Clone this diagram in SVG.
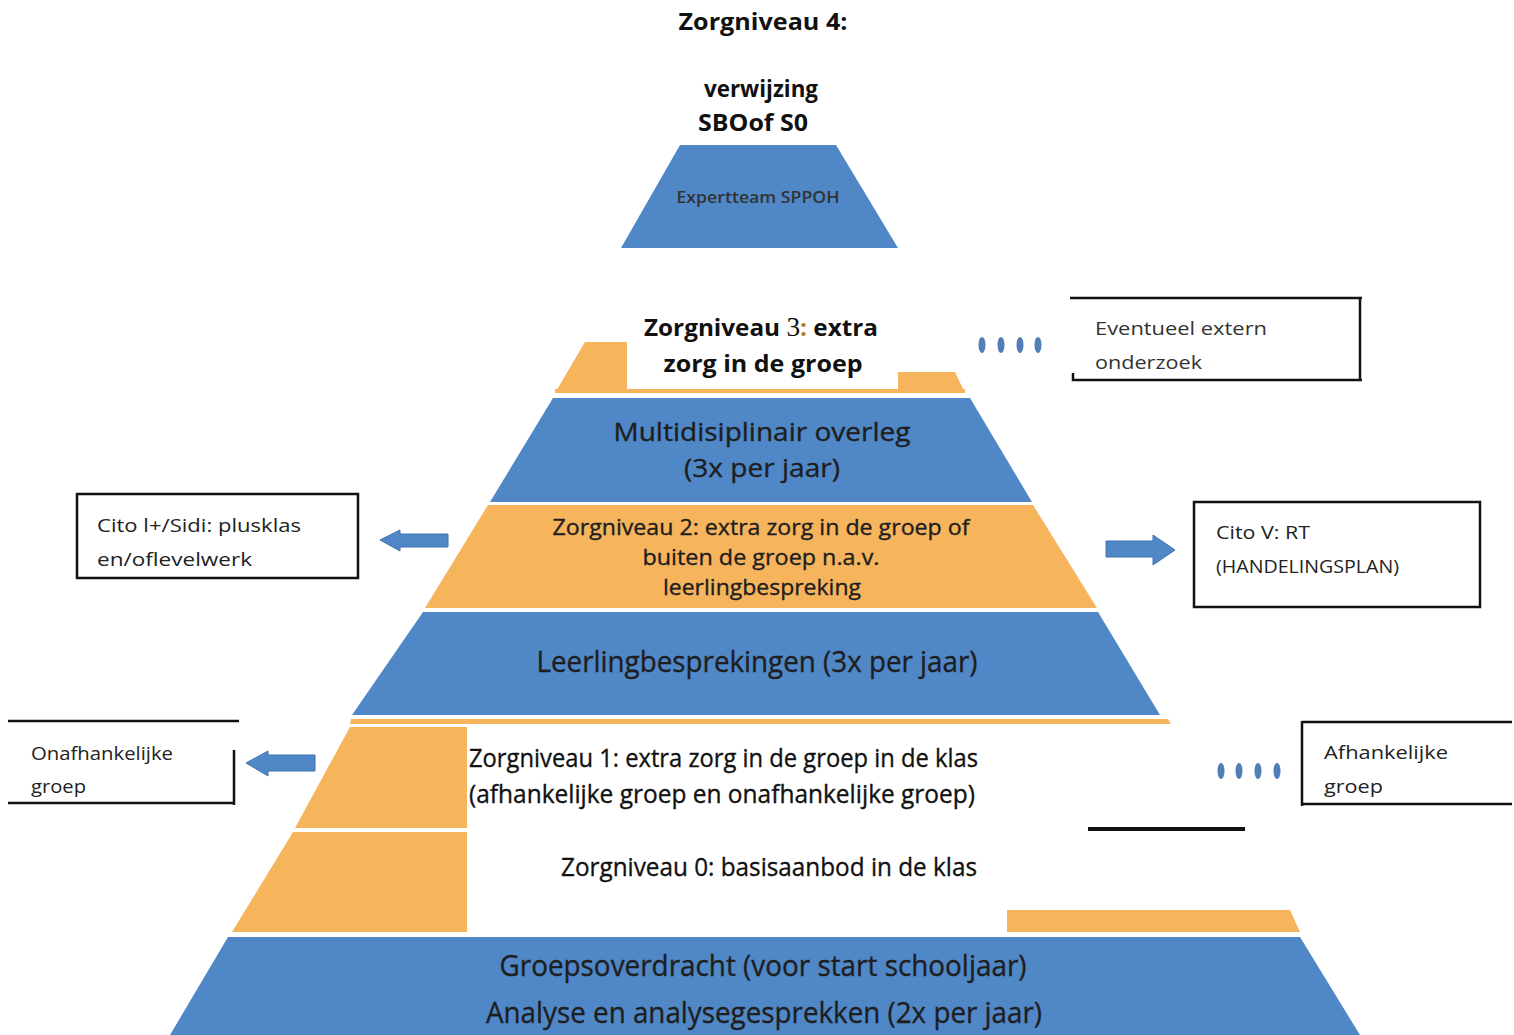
<svg xmlns="http://www.w3.org/2000/svg" width="1514" height="1035" viewBox="0 0 1514 1035">
<style>
.blue{fill:#4f87c7}
.orange{fill:#f6b45c}
.hd{font-family:"Open Sans","Liberation Sans",sans-serif;font-weight:bold;fill:#111}
.lv{font-family:"Open Sans","Liberation Sans",sans-serif;fill:#1e1e1e;stroke:#1e1e1e;stroke-width:0.35}
.bx{font-family:"Open Sans","Liberation Sans",sans-serif;font-size:19px;fill:#222}
.ln{stroke:#111;stroke-width:2.5;fill:none}
.dot{fill:#4f7fb6}
.arr{fill:#4f87c7;stroke:#3e74b0;stroke-width:1}
</style>
<rect width="1514" height="1035" fill="#fff"/>

<g id="level4">
<text class="hd" x="763" y="30" font-size="24" text-anchor="middle" textLength="169" lengthAdjust="spacingAndGlyphs">Zorgniveau  4:</text>
<text class="hd" x="761" y="97" font-size="24" text-anchor="middle" textLength="114" lengthAdjust="spacingAndGlyphs">verwijzing</text>
<text class="hd" x="753" y="131" font-size="24" text-anchor="middle" textLength="110" lengthAdjust="spacingAndGlyphs">SBOof S0</text>
<polygon class="blue" points="680,145 836,145 898,248 621,248"/>
<text class="lv" x="758" y="203" font-size="17" font-weight="600" text-anchor="middle" textLength="163" lengthAdjust="spacingAndGlyphs" style="fill:#333;stroke:none">Expertteam SPPOH</text>
</g>

<g id="level3">
<polygon class="orange" points="585,342 627,342 627,393 555,393"/>
<polygon class="orange" points="898,372 955,372 965,393 898,393"/>
<rect class="orange" x="555" y="389" width="410" height="4"/>
<text class="hd" x="761" y="336" font-size="24" text-anchor="middle" textLength="234" lengthAdjust="spacingAndGlyphs">Zorgniveau <tspan font-family="Liberation Serif,serif" font-weight="normal" font-size="27">3</tspan><tspan style="fill:#b07a2a">:</tspan> extra</text>
<text class="hd" x="763" y="372" font-size="24" text-anchor="middle" textLength="199" lengthAdjust="spacingAndGlyphs">zorg in de groep</text>
</g>

<g id="multidisciplinair">
<polygon class="blue" points="553,398 970,398 1032,502 490,502"/>
<text class="lv" x="762" y="441" font-size="25" text-anchor="middle" textLength="297" lengthAdjust="spacingAndGlyphs">Multidisiplinair overleg</text>
<text class="lv" x="762" y="477" font-size="25" text-anchor="middle" textLength="156" lengthAdjust="spacingAndGlyphs">(3x per jaar)</text>
</g>

<g id="level2">
<polygon class="orange" points="488,505 1033,505 1097,608 425,608"/>
<text class="lv" x="761" y="535" font-size="21.5" text-anchor="middle" textLength="417" lengthAdjust="spacingAndGlyphs">Zorgniveau 2: extra zorg in de groep of</text>
<text class="lv" x="761" y="565" font-size="21.5" text-anchor="middle" textLength="237" lengthAdjust="spacingAndGlyphs">buiten de groep n.a.v.</text>
<text class="lv" x="762" y="595" font-size="21.5" text-anchor="middle" textLength="198" lengthAdjust="spacingAndGlyphs">leerlingbespreking</text>
</g>

<g id="leerlingbesprekingen">
<polygon class="blue" points="423,612 1098,612 1160,715 352,715"/>
<text class="lv" x="757" y="672" font-size="29" text-anchor="middle" textLength="441" lengthAdjust="spacingAndGlyphs">Leerlingbesprekingen (3x per jaar)</text>
</g>

<g id="level1">
<polygon class="orange" points="351,719 1168,719 1171,724 350,724"/>
<polygon class="orange" points="350,727 467,727 467,828 295,828"/>
<text class="lv" x="469" y="767" font-size="26" textLength="509" lengthAdjust="spacingAndGlyphs" style="fill:#111;stroke:#111">Zorgniveau 1: extra zorg in de groep in de klas</text>
<text class="lv" x="469" y="803" font-size="26" textLength="506" lengthAdjust="spacingAndGlyphs" style="fill:#111;stroke:#111">(afhankelijke  groep  en  onafhankelijke groep)</text>
</g>

<g id="level0">
<polygon class="orange" points="293,832 467,832 467,932 232,932"/>
<polygon class="orange" points="1007,910 1290,910 1300,932 1007,932"/>
<text class="lv" x="561" y="876" font-size="26" textLength="416" lengthAdjust="spacingAndGlyphs" style="fill:#111;stroke:#111">Zorgniveau 0: basisaanbod  in  de  klas</text>
</g>

<g id="groepsoverdracht">
<polygon class="blue" points="228,937 1300,937 1360,1035 170,1035"/>
<text class="lv" x="763" y="976" font-size="30" text-anchor="middle" textLength="527" lengthAdjust="spacingAndGlyphs">Groepsoverdracht (voor start schooljaar)</text>
<text class="lv" x="764" y="1023" font-size="30" text-anchor="middle" textLength="556" lengthAdjust="spacingAndGlyphs">Analyse en analysegesprekken (2x per jaar)</text>
</g>

<g id="box-extern">
<path class="ln" d="M1070,298 H1362 M1360,298 V381 M1362,380 H1073 V373"/>
<text class="bx" x="1095" y="335" textLength="172" lengthAdjust="spacingAndGlyphs" style="fill:#333">Eventueel extern</text>
<text class="bx" x="1095" y="369" textLength="107" lengthAdjust="spacingAndGlyphs" style="fill:#333">onderzoek</text>
</g>

<g id="box-cito-plus">
<path class="ln" d="M77,494 H358 V578 H77 Z"/>
<text class="bx" x="97" y="532" textLength="204" lengthAdjust="spacingAndGlyphs">Cito l+/Sidi: plusklas</text>
<text class="bx" x="97" y="566" textLength="155" lengthAdjust="spacingAndGlyphs">en/oflevelwerk</text>
</g>

<g id="box-cito-v">
<path class="ln" d="M1194,502 H1480 V607 H1194 Z"/>
<text class="bx" x="1216" y="539" textLength="94" lengthAdjust="spacingAndGlyphs">Cito V: RT</text>
<text class="bx" x="1216" y="573" textLength="183" lengthAdjust="spacingAndGlyphs">(HANDELINGSPLAN)</text>
</g>

<g id="box-onafhankelijk">
<path class="ln" d="M8,721 H239 M234,750 V805 M8,803 H234"/>
<text class="bx" x="31" y="760" textLength="142" lengthAdjust="spacingAndGlyphs">Onafhankelijke</text>
<text class="bx" x="31" y="793" textLength="55" lengthAdjust="spacingAndGlyphs">groep</text>
</g>

<g id="box-afhankelijk">
<path class="ln" d="M1302,722 H1512 M1302,721 V806 M1302,804 H1512"/>
<text class="bx" x="1324" y="759" textLength="124" lengthAdjust="spacingAndGlyphs">Afhankelijke</text>
<text class="bx" x="1324" y="793" textLength="59" lengthAdjust="spacingAndGlyphs">groep</text>
</g>

<g id="connectors">
<polygon class="arr" points="380,540 400,530 400,534 448,534 448,547 400,547 400,551"/>
<polygon class="arr" points="1106,541 1153,541 1153,535 1175,550 1153,565 1153,557 1106,557"/>
<polygon class="arr" points="246,763 268,751 268,755 315,755 315,771 268,771 268,776"/>
<ellipse class="dot" cx="982" cy="345" rx="3.5" ry="8"/>
<ellipse class="dot" cx="1001" cy="345" rx="3.5" ry="8"/>
<ellipse class="dot" cx="1020" cy="345" rx="3.5" ry="8"/>
<ellipse class="dot" cx="1038" cy="345" rx="3.5" ry="8"/>
<ellipse class="dot" cx="1221" cy="771" rx="3.5" ry="8"/>
<ellipse class="dot" cx="1239" cy="771" rx="3.5" ry="8"/>
<ellipse class="dot" cx="1258" cy="771" rx="3.5" ry="8"/>
<ellipse class="dot" cx="1277" cy="771" rx="3.5" ry="8"/>
<line x1="1088" y1="829" x2="1245" y2="829" stroke="#111" stroke-width="4"/>
</g>
</svg>
